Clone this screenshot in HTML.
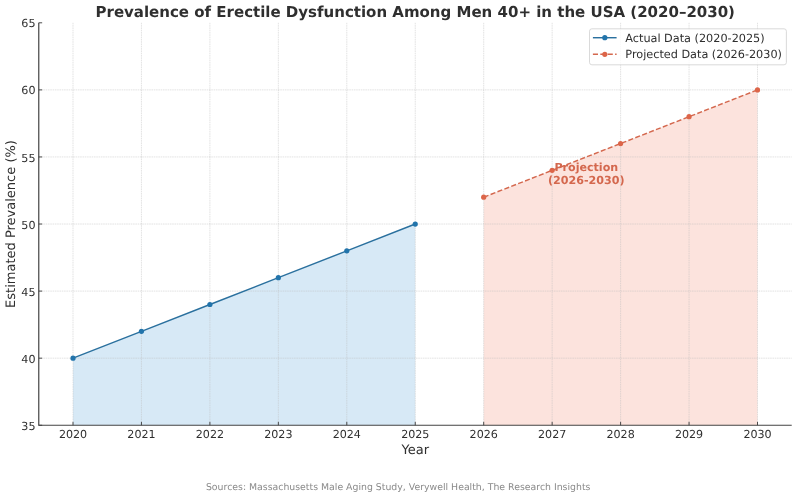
<!DOCTYPE html>
<html lang="en"><head><meta charset="utf-8"><title>Prevalence of Erectile Dysfunction Among Men 40+ in the USA (2020–2030)</title>
<style>
html,body{margin:0;padding:0;background:#fff}
#c{position:relative;width:797px;height:496px;overflow:hidden;font-family:"DejaVu Sans","Liberation Sans",sans-serif;color:#2f2f2f}
svg{display:block;position:absolute;left:0;top:0}
.t{position:absolute;white-space:nowrap;line-height:1;text-rendering:geometricPrecision}
</style></head>
<body>
<div id="c">
<svg width="797" height="496" viewBox="0 0 797 496">
<rect width="797" height="496" fill="#fff"/>
<polygon points="73.00,358.18 141.45,331.35 209.90,304.51 278.35,277.69 346.80,250.86 415.25,224.03 415.25,425.25 73.00,425.25" fill="#d7e9f6"/>
<polygon points="483.70,197.20 552.15,170.37 620.60,143.54 689.05,116.71 757.50,89.88 757.50,425.25 483.70,425.25" fill="#fce3dd"/>
<path d="M73.00 22.80V425.25M141.45 22.80V425.25M209.90 22.80V425.25M278.35 22.80V425.25M346.80 22.80V425.25M415.25 22.80V425.25M483.70 22.80V425.25M552.15 22.80V425.25M620.60 22.80V425.25M689.05 22.80V425.25M757.50 22.80V425.25M38.77 358.18H791.73M38.77 291.10H791.73M38.77 224.03H791.73M38.77 156.95H791.73M38.77 89.88H791.73" stroke="#bbb" stroke-opacity="0.6" stroke-width="0.7" stroke-dasharray="1.6 0.7" fill="none"/>
<polyline points="73.00,358.18 141.45,331.35 209.90,304.51 278.35,277.69 346.80,250.86 415.25,224.03" fill="none" stroke="#2a709e" stroke-width="1.45"/>
<polyline points="483.70,197.20 552.15,170.37 620.60,143.54 689.05,116.71 757.50,89.88" fill="none" stroke="#d4684e" stroke-width="1.45" stroke-dasharray="5.1 2.3"/>
<circle cx="73.00" cy="358.18" r="2.6" fill="#2274ab"/>
<circle cx="141.45" cy="331.35" r="2.6" fill="#2274ab"/>
<circle cx="209.90" cy="304.51" r="2.6" fill="#2274ab"/>
<circle cx="278.35" cy="277.69" r="2.6" fill="#2274ab"/>
<circle cx="346.80" cy="250.86" r="2.6" fill="#2274ab"/>
<circle cx="415.25" cy="224.03" r="2.6" fill="#2274ab"/>
<circle cx="483.70" cy="197.20" r="2.6" fill="#dc6549"/>
<circle cx="552.15" cy="170.37" r="2.6" fill="#dc6549"/>
<circle cx="620.60" cy="143.54" r="2.6" fill="#dc6549"/>
<circle cx="689.05" cy="116.71" r="2.6" fill="#dc6549"/>
<circle cx="757.50" cy="89.88" r="2.6" fill="#dc6549"/>
<path d="M38.77 22.80V425.25H791.73" stroke="#444" stroke-width="1.2" fill="none"/>
<path d="M73.00 425.25v-3.4M141.45 425.25v-3.4M209.90 425.25v-3.4M278.35 425.25v-3.4M346.80 425.25v-3.4M415.25 425.25v-3.4M483.70 425.25v-3.4M552.15 425.25v-3.4M620.60 425.25v-3.4M689.05 425.25v-3.4M757.50 425.25v-3.4M38.77 425.25h3.4M38.77 358.18h3.4M38.77 291.10h3.4M38.77 224.03h3.4M38.77 156.95h3.4M38.77 89.88h3.4M38.77 22.80h3.4" stroke="#3a3a3a" stroke-width="0.9" fill="none"/>
<rect x="589.5" y="28.8" width="196.9" height="36" rx="2.4" fill="#fff" fill-opacity="0.8" stroke="#ccc" stroke-opacity="0.8" stroke-width="0.9"/>
<path d="M592.9 37.7H616.6" stroke="#2a709e" stroke-width="1.45"/><circle cx="604.8" cy="37.7" r="2.6" fill="#2274ab"/>
<path d="M592.9 54.3H616.6" stroke="#d4684e" stroke-width="1.45" stroke-dasharray="5.1 2.3"/><circle cx="604.8" cy="54.3" r="2.6" fill="#dc6549"/>
</svg>
<div class="t" style="left:415.25px;transform:translate(-50%,-0.4px);top:5.31px;font-size:15px;font-weight:bold;letter-spacing:0">Prevalence of Erectile Dysfunction Among Men 40+ in the USA (2020–2030)</div>
<div class="t" style="left:73.00px;transform:translate(-50%,0px);top:428.71px;font-size:11.1px;">2020</div>
<div class="t" style="left:141.45px;transform:translate(-50%,0px);top:428.71px;font-size:11.1px;">2021</div>
<div class="t" style="left:209.90px;transform:translate(-50%,0px);top:428.71px;font-size:11.1px;">2022</div>
<div class="t" style="left:278.35px;transform:translate(-50%,0px);top:428.71px;font-size:11.1px;">2023</div>
<div class="t" style="left:346.80px;transform:translate(-50%,0px);top:428.71px;font-size:11.1px;">2024</div>
<div class="t" style="left:415.25px;transform:translate(-50%,0px);top:428.71px;font-size:11.1px;">2025</div>
<div class="t" style="left:483.70px;transform:translate(-50%,0px);top:428.71px;font-size:11.1px;">2026</div>
<div class="t" style="left:552.15px;transform:translate(-50%,0px);top:428.71px;font-size:11.1px;">2027</div>
<div class="t" style="left:620.60px;transform:translate(-50%,0px);top:428.71px;font-size:11.1px;">2028</div>
<div class="t" style="left:689.05px;transform:translate(-50%,0px);top:428.71px;font-size:11.1px;">2029</div>
<div class="t" style="left:757.50px;transform:translate(-50%,0px);top:428.71px;font-size:11.1px;">2030</div>
<div class="t" style="right:761.52px;top:420.86px;font-size:11.1px;">35</div>
<div class="t" style="right:761.52px;top:353.78px;font-size:11.1px;">40</div>
<div class="t" style="right:761.52px;top:286.71px;font-size:11.1px;">45</div>
<div class="t" style="right:761.52px;top:219.63px;font-size:11.1px;">50</div>
<div class="t" style="right:761.52px;top:152.56px;font-size:11.1px;">55</div>
<div class="t" style="right:761.52px;top:85.48px;font-size:11.1px;">60</div>
<div class="t" style="right:761.52px;top:18.41px;font-size:11.1px;">65</div>
<div class="t" style="left:415.25px;transform:translate(-50%,0px);top:443.90px;font-size:13px;">Year</div>
<div class="t" style="left:15.7px;top:224.03px;font-size:13px;transform:translate(-50%,-50%) rotate(-90deg) translateY(-4.50px)">Estimated Prevalence (%)</div>
<div class="t" style="left:586.30px;transform:translate(-50%,0px);top:161.61px;font-size:11.1px;font-weight:bold;color:#d4684e">Projection</div>
<div class="t" style="left:586.30px;transform:translate(-50%,0px);top:174.71px;font-size:11.1px;font-weight:bold;color:#d4684e">(2026-2030)</div>
<div class="t" style="left:625.30px;top:33.38px;font-size:11.25px;">Actual Data (2020-2025)</div>
<div class="t" style="left:625.30px;top:48.78px;font-size:11.25px;">Projected Data (2026-2030)</div>
<div class="t" style="left:398.20px;transform:translate(-50%,0px);top:482.78px;font-size:9.36px;color:#8a8a8a">Sources: Massachusetts Male Aging Study, Verywell Health, The Research Insights</div>
</div>
</body></html>
